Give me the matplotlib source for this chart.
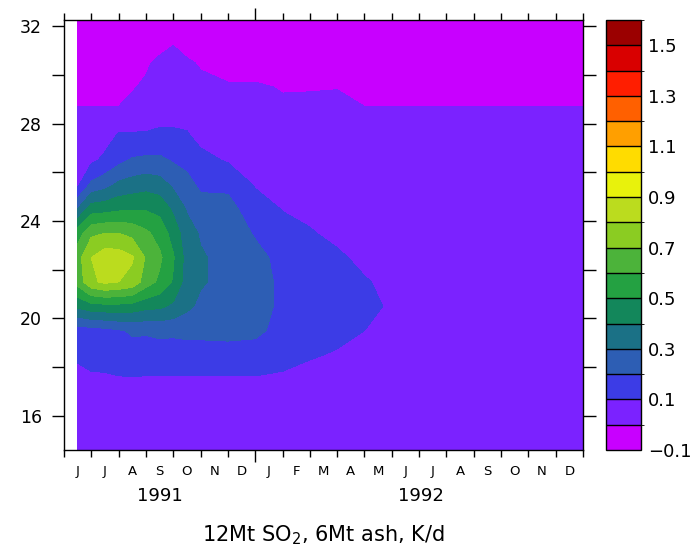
import numpy as np
import matplotlib
matplotlib.use("Agg")
import matplotlib.pyplot as plt
import matplotlib.transforms as mtransforms
from matplotlib.colors import ListedColormap, BoundaryNorm

plt.rcParams["font.family"] = ["DejaVu Sans"]
plt.rcParams["mathtext.default"] = "regular"

# time axis: months since 1 Jun 1991 (0 = Jun 1991, 19 = Jan 1993)
time_months = [0.5, 1, 1.5, 2, 2.5, 3, 3.5, 4, 4.5, 5, 6, 7, 8, 9, 10, 11, 12, 19]

# altitude levels, km (top to bottom)
altitude_km = [32.5, 31.5, 30.5, 29.5, 28.5, 27.5, 26.5, 25.5, 24.5, 23.5,
               22.5, 21.5, 20.5, 19.5, 18.5, 17.5, 16.5, 15.5, 14.5]

# heating rate profiles (K/d), one list per time, values from top to bottom
heating_profiles = [
    [-0.05, -0.05, -0.06, -0.08, 0.02, 0.05, 0.05, 0.08, 0.30, 0.55, 0.66, 0.64, 0.42, 0.15, 0.12, 0.06, 0.05, 0.05, 0.05],
    [-0.05, -0.05, -0.06, -0.08, 0.02, 0.05, 0.08, 0.22, 0.45, 0.68, 0.80, 0.78, 0.46, 0.16, 0.14, 0.08, 0.05, 0.05, 0.05],
    [-0.05, -0.05, -0.06, -0.08, 0.02, 0.06, 0.12, 0.26, 0.46, 0.70, 0.86, 0.82, 0.47, 0.17, 0.15, 0.08, 0.05, 0.05, 0.05],
    [-0.05, -0.05, -0.06, -0.08, 0.02, 0.11, 0.17, 0.32, 0.48, 0.70, 0.85, 0.80, 0.47, 0.19, 0.16, 0.09, 0.05, 0.05, 0.05],
    [-0.05, -0.05, -0.05, -0.01, 0.04, 0.11, 0.21, 0.34, 0.49, 0.67, 0.81, 0.77, 0.46, 0.21, 0.17, 0.09, 0.05, 0.05, 0.05],
    [-0.05, -0.05, -0.02, 0.02, 0.05, 0.11, 0.22, 0.36, 0.49, 0.62, 0.69, 0.65, 0.43, 0.21, 0.16, 0.09, 0.05, 0.05, 0.05],
    [-0.05, -0.07, 0.03, 0.05, 0.06, 0.12, 0.22, 0.34, 0.47, 0.56, 0.62, 0.58, 0.42, 0.22, 0.16, 0.09, 0.05, 0.05, 0.05],
    [-0.05, -0.015, 0.035, 0.05, 0.06, 0.12, 0.19, 0.28, 0.38, 0.46, 0.51, 0.49, 0.38, 0.22, 0.15, 0.09, 0.05, 0.05, 0.05],
    [-0.05, -0.08, 0.02, 0.05, 0.06, 0.11, 0.17, 0.23, 0.29, 0.34, 0.36, 0.35, 0.32, 0.23, 0.15, 0.09, 0.05, 0.05, 0.05],
    [-0.05, -0.05, -0.015, 0.035, 0.05, 0.07, 0.13, 0.18, 0.24, 0.29, 0.31, 0.31, 0.28, 0.23, 0.15, 0.09, 0.05, 0.05, 0.05],
    [-0.05, -0.05, -0.08, 0.02, 0.05, 0.06, 0.09, 0.18, 0.23, 0.26, 0.27, 0.27, 0.26, 0.23, 0.16, 0.09, 0.05, 0.05, 0.05],
    [-0.05, -0.05, -0.08, 0.02, 0.05, 0.05, 0.06, 0.09, 0.15, 0.19, 0.23, 0.24, 0.24, 0.22, 0.16, 0.09, 0.05, 0.05, 0.05],
    [-0.05, -0.05, -0.06, -0.01, 0.03, 0.05, 0.05, 0.07, 0.095, 0.14, 0.17, 0.18, 0.18, 0.17, 0.14, 0.08, 0.05, 0.05, 0.05],
    [-0.05, -0.05, -0.06, -0.01, 0.04, 0.05, 0.05, 0.05, 0.07, 0.11, 0.15, 0.16, 0.16, 0.15, 0.11, 0.06, 0.05, 0.05, 0.05],
    [-0.05, -0.05, -0.06, -0.005, 0.04, 0.05, 0.05, 0.05, 0.05, 0.07, 0.12, 0.14, 0.14, 0.13, 0.09, 0.05, 0.05, 0.05, 0.05],
    [-0.05, -0.05, -0.06, -0.08, 0.02, 0.05, 0.05, 0.05, 0.05, 0.05, 0.07, 0.11, 0.12, 0.10, 0.07, 0.05, 0.05, 0.05, 0.05],
    [-0.05, -0.05, -0.06, -0.08, 0.02, 0.05, 0.05, 0.05, 0.05, 0.05, 0.05, 0.07, 0.09, 0.085, 0.06, 0.05, 0.05, 0.05, 0.05],
    [-0.05, -0.05, -0.06, -0.08, 0.02, 0.05, 0.05, 0.05, 0.05, 0.05, 0.05, 0.05, 0.05, 0.05, 0.05, 0.05, 0.05, 0.05, 0.05],
]

levels = [-0.1, 0.0, 0.1, 0.2, 0.3, 0.4, 0.5, 0.6, 0.7, 0.8, 0.9,
          1.0, 1.1, 1.2, 1.3, 1.4, 1.5, 1.6]
level_colors = ["#c800ff", "#7b22ff", "#3c3ce6", "#2d5eb4", "#1b7186",
                "#13875b", "#24a142", "#4cb33a", "#8bcc22", "#bbdc1e",
                "#e8f20c", "#ffdc00", "#ff9f00", "#ff6000", "#ff1e00",
                "#d90000", "#9b0000"]
cbar_ticks = [-0.1, 0.1, 0.3, 0.5, 0.7, 0.9, 1.1, 1.3, 1.5]
cbar_labels = ["\u22120.1", "0.1", "0.3", "0.5", "0.7", "0.9", "1.1", "1.3", "1.5"]

month_letters = ["J", "J", "A", "S", "O", "N", "D", "J", "F", "M",
                 "A", "M", "J", "J", "A", "S", "O", "N", "D"]
years = ["1991", "1992"]
year_pos = [3.5, 13.05]

fig = plt.figure(figsize=(6.91, 5.51), dpi=100)
ax = fig.add_axes([0.0926, 0.1833, 0.7511, 0.7804])
cax = fig.add_axes([0.877, 0.1833, 0.0507, 0.7804])

cmap = ListedColormap(level_colors)
norm = BoundaryNorm(levels, cmap.N)
field = np.array(heating_profiles).T
cs = ax.contourf(time_months, altitude_km, field, levels=levels, cmap=cmap, norm=norm)

ax.set_xlim(0, 19)
ax.set_ylim(14.6, 32.25)

# y ticks on both sides
ax.set_yticks([16, 20, 24, 28, 32])
ax.set_yticks([18, 22, 26, 30], minor=True)
ax.tick_params(axis="y", which="both", direction="out", length=9, width=1,
               left=True, right=True, labelright=False, labelsize=12.5, pad=7)

# month boundaries: long tick at new year
ax.set_xticks([7])
ax.set_xticks([m for m in range(20) if m != 7], minor=True)
ax.tick_params(axis="x", which="major", direction="out", length=8.5, width=1,
               top=True, bottom=True, labelbottom=False)
ax.tick_params(axis="x", which="minor", direction="out", length=5, width=1,
               top=True, bottom=True)

for sp in ax.spines.values():
    sp.set_linewidth(1.0)

trans = mtransforms.blended_transform_factory(ax.transData, ax.transAxes)
for i, m in enumerate(month_letters):
    ax.text(i + 0.5, -0.049, m, transform=trans, ha="center", va="center", fontsize=9.5)
for y, p in zip(years, year_pos):
    ax.text(p, -0.106, y, transform=trans, ha="center", va="center", fontsize=13)

fig.text(0.468, 0.029, "12Mt SO$_2$, 6Mt ash, K/d", ha="center", va="center", fontsize=15)

cb = fig.colorbar(cs, cax=cax, ticks=cbar_ticks, drawedges=True)
cb.ax.set_yticklabels(cbar_labels)
cb.ax.tick_params(length=0, labelsize=13, pad=5)
cb.outline.set_linewidth(1.0)
cb.dividers.set_linewidth(1.0)
cb.dividers.set_color("black")

fig.savefig("out.png", dpi=100)
